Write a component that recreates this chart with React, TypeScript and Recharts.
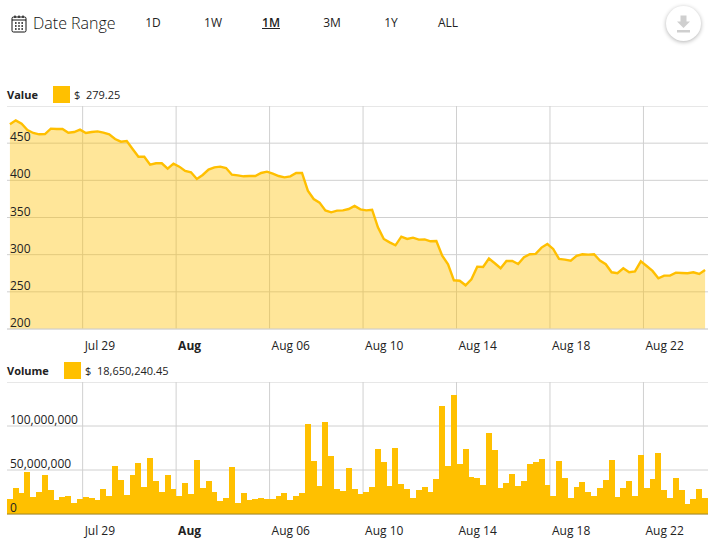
import { ComposedChart, Area, Bar, XAxis, YAxis, CartesianGrid } from "recharts";

const FONT = "'Open Sans', sans-serif";
const GOLD = "#ffc000";

// one sample every 6 hours
const prices = [
  475.3, 480.7, 476.2, 467.7, 463.7, 461.9, 462.3, 469.5, 469, 469,
  464.1, 465, 468.2, 463.7, 465, 465.9, 464.1, 461.9, 455.6, 452,
  452.9, 442.2, 431.8, 431.8, 421.1, 422.9, 422.9, 415.7, 422.4, 418.4,
  412.6, 410.8, 401.8, 407.2, 414.4, 417.5, 418.4, 416.6, 407.6, 406.7,
  405.4, 405.8, 405.8, 409.9, 411.7, 409, 405.8, 404, 405.4, 409.9,
  409.9, 386.1, 374.9, 370, 359.6, 357, 359.2, 359.6, 361.4, 365.5,
  361, 359.6, 360.5, 336.8, 321.1, 316.6, 312.6, 324.2, 321.1, 322.9,
  320.2, 320.6, 318, 318.4, 298.7, 287, 265.5, 265, 258.8, 266.9,
  283.9, 283.5, 294.7, 288.4, 281.7, 291.5, 291.5, 287.5, 296.5, 300.5,
  301, 309.5, 314.4, 307.7, 294.2, 293.3, 292, 298.3, 300.5, 300.1,
  300.5, 292, 287.1, 276.3, 275, 281.7, 276.3, 277.6, 291.1, 284.8,
  278.1, 268.2, 271.8, 271.8, 275.8, 275.4, 275, 276.3, 274, 279.25,
];

// millions of dollars
const volumes = [
  17.4, 29.9, 24.2, 48.1, 19.7, 25.4, 44.7, 27.7, 16.3, 19.7,
  20.8, 12.9, 17.4, 19.7, 18.6, 16.3, 28.8, 20.8, 54.9, 39,
  22, 44.7, 58.3, 31.1, 64, 37.9, 25.4, 44.7, 28.8, 20.8,
  35.6, 23.1, 61.7, 29.9, 37.9, 25.4, 15.2, 18.6, 53.8, 12.9,
  24.2, 16.3, 17.4, 18.6, 17.4, 17.4, 20.8, 24.2, 16.3, 20.8,
  24.2, 102.7, 60.6, 32.2, 104.9, 66.3, 28.8, 26.5, 52.7, 28.8,
  23.1, 25.4, 31.1, 74.2, 59.5, 32.2, 75.4, 34.5, 28.8, 18.6,
  27.7, 31.1, 25.4, 40.2, 123.1, 54.9, 135.6, 57.2, 74.2, 42.4,
  41.3, 33.3, 92.4, 73.1, 29.9, 35.6, 45.8, 32.2, 37.9, 57.2,
  59.5, 62.9, 33.3, 20.8, 60.6, 41.3, 18.6, 31.1, 36.7, 25.4,
  20.8, 29.9, 39, 61.7, 19.7, 29.9, 37.9, 20.8, 67.4, 29.9,
  40.2, 69.7, 27.7, 18.6, 41.3, 27.7, 11.7, 17.4, 28.8, 18.65,
];

const dateTicks = [12.45, 28.45, 44.45, 60.45, 76.45, 92.45, 108.45];
const dateLabels = ["Jul 29", "Aug", "Aug 06", "Aug 10", "Aug 14", "Aug 18", "Aug 22"];
const priceTicks = [200, 250, 300, 350, 400, 450, 500];
const volumeTicks = [0, 50, 100, 150];
const ranges = ["1D", "1W", "1M", "3M", "1Y", "ALL"];
const rangeCenters = [153, 213, 271, 332, 391, 448];

const priceData = prices.map((value, i) => ({ i, value }));
const volumeData = volumes.map((value, i) => ({ i, value }));

function DateTick({ x, y, payload }: any) {
  const label = dateLabels[dateTicks.indexOf(payload.value)];
  return (
    <text x={x + 2} y={y + 13} fontSize={12} fontFamily={FONT} fill="#222" fontWeight={label === "Aug" ? 700 : 400}>
      {label}
    </text>
  );
}

function PriceTick({ y, payload }: any) {
  if (payload.value === 500) return <g />;
  return (
    <text x={3} y={y - 2} fontSize={12} fontFamily={FONT} fill="#222">
      {payload.value}
    </text>
  );
}

function VolumeTick({ y, payload }: any) {
  if (payload.value === 150) return <g />;
  return (
    <text x={3} y={y - 2} fontSize={12} fontFamily={FONT} fill="#222">
      {payload.value === 0 ? "0" : (payload.value * 1000000).toLocaleString("en-US")}
    </text>
  );
}

// neighbouring bars touch in the original, so snap them to whole pixels
function VolumeBar({ x, y, width, height }: any) {
  const center = x + width / 2;
  return <rect x={Math.round(center - 3)} y={y} width={6} height={height} fill={GOLD} shapeRendering="crispEdges" />;
}

function Legend({ top, title, swatch, amount }: { top: number; title: string; swatch: number; amount: string }) {
  return (
    <div style={{ position: "absolute", left: 0, top, height: 17 }}>
      <span style={{ position: "absolute", left: 7, top: 0, fontSize: 11, lineHeight: "17px", fontWeight: 700, color: "#222" }}>{title}</span>
      <span style={{ position: "absolute", left: swatch, top: 0, width: 17, height: 17, background: GOLD }} />
      <span style={{ position: "absolute", left: swatch + 21, top: 0, fontSize: 11, lineHeight: "17px", color: "#222", whiteSpace: "pre" }}>{"$  " + amount}</span>
    </div>
  );
}

function CalendarIcon() {
  return (
    <svg width={17} height={20} style={{ position: "absolute", left: 11, top: 14 }}>
      <rect x={1} y={3} width={14} height={15} rx={1.5} fill="none" stroke="#111" strokeWidth={1} />
      <line x1={1} y1={6} x2={15} y2={6} stroke="#111" strokeWidth={1} />
      <line x1={4} y1={1.5} x2={4} y2={4} stroke="#111" strokeWidth={1.2} />
      <line x1={8} y1={1.5} x2={8} y2={4} stroke="#111" strokeWidth={1.2} />
      <line x1={12} y1={1.5} x2={12} y2={4} stroke="#111" strokeWidth={1.2} />
      <line x1={4} y1={9} x2={12} y2={9} stroke="#111" strokeWidth={1.6} strokeDasharray="1.6 1.6" />
      <line x1={4} y1={12} x2={12} y2={12} stroke="#111" strokeWidth={1.6} strokeDasharray="1.6 1.6" />
      <line x1={4} y1={15} x2={12} y2={15} stroke="#111" strokeWidth={1.6} strokeDasharray="1.6 1.6" />
    </svg>
  );
}

function DownloadButton() {
  return (
    <div style={{ position: "absolute", left: 666, top: 6, width: 35, height: 35, borderRadius: "50%", background: "#fff", boxShadow: "0 1px 4px rgba(0,0,0,0.3)" }}>
      <svg width={35} height={35}>
        <path d="M14.5 9.5h6v6h3.5l-6.5 6.5-6.5-6.5h3.5z" fill="#cfcfcf" />
        <rect x={11} y={24} width={13} height={2.5} fill="#cfcfcf" />
      </svg>
    </div>
  );
}

export default function App() {
  return (
    <div style={{ position: "absolute", left: 0, top: 0, width: 712, height: 541, background: "#fff", fontFamily: FONT, overflow: "hidden" }}>
      <CalendarIcon />
      <div style={{ position: "absolute", left: 33, top: 11, fontSize: 16, lineHeight: "25px", fontWeight: 300, color: "#111" }}>Date Range</div>
      {ranges.map((r, i) => (
        <div
          key={r}
          style={{
            position: "absolute",
            left: rangeCenters[i] - 25,
            width: 50,
            top: 14,
            textAlign: "center",
            fontSize: 12,
            lineHeight: "18px",
            color: "#222",
            fontWeight: r === "1M" ? 600 : 400,
            textDecoration: r === "1M" ? "underline" : "none",
          }}
        >
          {r}
        </div>
      ))}
      <DownloadButton />

      <Legend top={86} title="Value" swatch={53} amount="279.25" />
      <div style={{ position: "absolute", left: 7, top: 106 }}>
        <ComposedChart width={701} height={253} data={priceData} margin={{ top: 0, right: 0, bottom: 0, left: -1 }}>
          <CartesianGrid stroke="#d0d0d0" syncWithTicks />
          <Area dataKey="value" type="linear" stroke="#ffbf00" strokeWidth={2.4} fill={GOLD} fillOpacity={0.4} dot={false} isAnimationActive={false} />
          <XAxis dataKey="i" type="number" domain={[-0.5, 119.5]} ticks={dateTicks} interval={0} height={30} tickLine={false} axisLine={{ stroke: "#d8d8d8" }} tick={<DateTick />} />
          <YAxis type="number" domain={[200, 500]} ticks={priceTicks} interval={0} width={1} tickLine={false} axisLine={false} tick={<PriceTick />} />
        </ComposedChart>
      </div>

      <Legend top={362} title="Volume" swatch={64} amount="18,650,240.45" />
      <div style={{ position: "absolute", left: 7, top: 382 }}>
        <ComposedChart width={701} height={162} data={volumeData} barCategoryGap={0} barGap={0} margin={{ top: 0, right: 0, bottom: 0, left: -1 }}>
          <CartesianGrid stroke="#d0d0d0" syncWithTicks />
          <Bar dataKey="value" fill={GOLD} barSize={5.84} shape={<VolumeBar />} isAnimationActive={false} />
          <XAxis dataKey="i" type="number" domain={[-0.5, 119.5]} ticks={dateTicks} interval={0} height={30} tickLine={false} axisLine={{ stroke: "#a88a20" }} tick={<DateTick />} />
          <YAxis type="number" domain={[0, 150]} ticks={volumeTicks} interval={0} width={1} tickLine={false} axisLine={false} tick={<VolumeTick />} />
        </ComposedChart>
      </div>
    </div>
  );
}
